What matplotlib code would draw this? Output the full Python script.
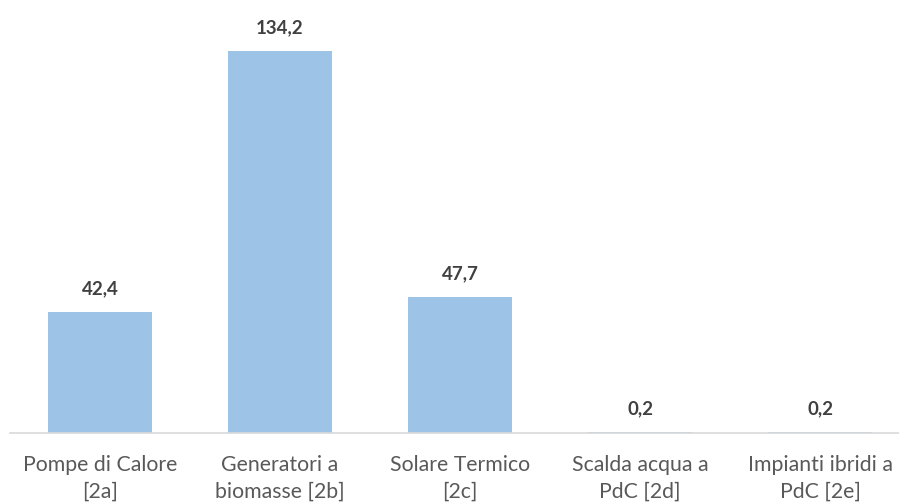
import matplotlib.pyplot as plt

categories = ['Pompe di Calore\n[2a]', 'Generatori a\nbiomasse [2b]', 'Solare Termico\n[2c]',
              'Scalda acqua a\nPdC [2d]', 'Impianti ibridi a\nPdC [2e]']
values = [42.4, 134.2, 47.7, 0.2, 0.2]

plt.rcParams['font.family'] = ['Lato', 'DejaVu Sans']

fig = plt.figure(figsize=(8.99, 5.04), dpi=100)
ax = fig.add_axes([10/899, 71/504, 900/899, 423/504])

x = range(len(values))
bars = ax.bar(x, values, width=0.578, color='#9DC3E6')

for i, v in enumerate(values):
    ax.annotate(format(v, '.1f').replace('.', ','), (i, v), xytext=(0, 13),
                textcoords='offset points', ha='center', va='baseline',
                fontsize=13.5, fontweight='bold', color='#404040')

ax.set_xlim(-0.5, 4.5)
ax.set_ylim(0, 148.6)
ax.set_xticks(list(x))
ax.set_xticklabels(categories, fontsize=15.3, color='#595959', linespacing=1.4)
ax.tick_params(axis='x', length=0, pad=16)
ax.set_yticks([])
for s in ['top', 'left', 'right']:
    ax.spines[s].set_visible(False)
ax.spines['bottom'].set_color('#D9D9D9')
ax.spines['bottom'].set_linewidth(1.2)

fig.savefig('out.png', dpi=100)
